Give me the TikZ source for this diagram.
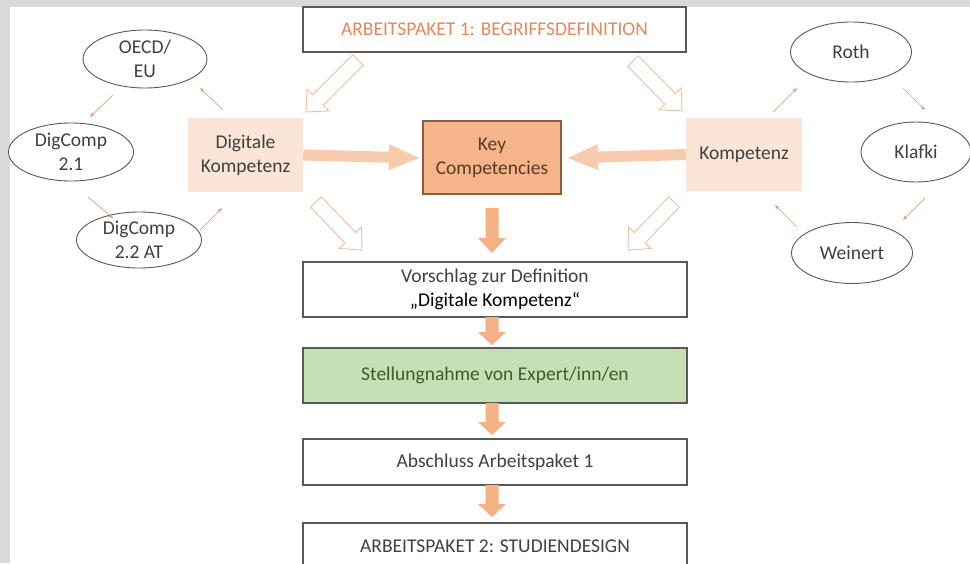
\documentclass[tikz,border=0pt]{standalone}
\usepackage{fontspec}
\setmainfont{Carlito}
\usetikzlibrary{calc,arrows.meta,shapes.geometric}
\definecolor{bggray}{HTML}{D9D9D9}
\definecolor{boxline}{HTML}{595959}
\definecolor{txtgray}{HTML}{404040}
\definecolor{orangetxt}{HTML}{E8875A}
\definecolor{keyfill}{HTML}{F6B48A}
\definecolor{keyline}{HTML}{8B5E44}
\definecolor{keytxt}{HTML}{5A3A28}
\definecolor{lightfill}{HTML}{FBE5D6}
\definecolor{greenfill}{HTML}{C5E0B4}
\definecolor{greentxt}{HTML}{3B5E2B}
\definecolor{hollowline}{HTML}{F0BE9E}
\definecolor{horfill}{HTML}{F8CBAD}
\definecolor{verfill}{HTML}{F4B183}
\definecolor{smallarr}{HTML}{DDA07E}
\newcommand{\blkarrow}[6]{%
  \coordinate (tmpC) at ($(#2)!#5!(#1)$);
  \path[#6] ($(#1)!#3!90:(#2)$) -- ($(tmpC)!#3!-90:(#1)$) -- ($(tmpC)!#4!-90:(#1)$) -- (#2) -- ($(tmpC)!#4!90:(#1)$) -- ($(tmpC)!#3!90:(#1)$) -- ($(#1)!#3!-90:(#2)$) -- cycle;}
\begin{document}
\begin{tikzpicture}[x=1pt,y=-1pt,
  every node/.style={font=\fontsize{19.5}{24}\selectfont, align=center, inner sep=0pt},
  flowbox/.style={draw=boxline, line width=1.1pt, fill=white, minimum width=384pt, text=txtgray},
  sidebox/.style={fill=lightfill, text=txtgray},
  ell/.style={ellipse, draw=boxline, line width=0.9pt, fill=white, text=txtgray},
  smallarrow/.style={draw=smallarr, line width=0.7pt, -{Stealth[length=5pt,width=4pt]}},
  hollow/.style={draw=hollowline, line width=0.9pt, fill=white, line join=miter},
  horarrow/.style={fill=horfill},
  verarrow/.style={fill=verfill}]
\useasboundingbox (0,0) rectangle (970,563);
\fill[bggray] (0,0) rectangle (970,563);
\fill[white] (10,7) rectangle (970,563);

% main boxes
\node[flowbox, minimum width=383pt, minimum height=45pt, text=orangetxt] (top) at (494.5,29.5) {ARBEITSPAKET 1: BEGRIFFSDEFINITION};
\node[draw=keyline, line width=1.1pt, fill=keyfill, text=keytxt, minimum width=138pt, minimum height=73pt] (key) at (492,157.5) {Key\\Competencies};
\node[sidebox, minimum width=115pt, minimum height=74pt] (dig) at (245.5,155) {Digitale\\Kompetenz};
\node[sidebox, minimum width=116pt, minimum height=73pt] (komp) at (744,154.5) {Kompetenz};
\node[flowbox, minimum height=55pt] (vor) at (495,289.5) {Vorschlag zur Definition\\{\color{black}„Digitale Kompetenz“}};
\node[flowbox, fill=greenfill, text=greentxt, minimum height=55pt] (stell) at (495,375.5) {Stellungnahme von Expert/inn/en};
\node[flowbox, minimum height=46pt] (absch) at (495,462) {Abschluss Arbeitspaket 1};
\node[flowbox, minimum height=46pt] (ap2) at (495,546) {ARBEITSPAKET 2: STUDIENDESIGN};

% ellipses
\node[ell, minimum width=124pt, minimum height=58pt] (oecd) at (145,59) {OECD/\\EU};
\node[ell, minimum width=125pt, minimum height=58pt] (dc21) at (71,152) {DigComp\\2.1};
\node[ell, minimum width=125pt, minimum height=56pt] (dc22) at (139,240) {DigComp\\2.2 AT};
\node[ell, minimum width=121pt, minimum height=60pt] (roth) at (851,52) {Roth};
\node[ell, minimum width=110pt, minimum height=60pt] (klafki) at (916,152) {Klafki};
\node[ell, minimum width=121pt, minimum height=61pt] (weinert) at (852,253) {Weinert};

% small arrow end points
\coordinate (l1a) at (223,110); \coordinate (l1b) at (200,88);
\coordinate (l2a) at (113,95);  \coordinate (l2b) at (90,117);
\coordinate (l3a) at (88,197);  \coordinate (l3b) at (113,218);
\coordinate (l4a) at (200,230); \coordinate (l4b) at (222,208);
\coordinate (r1a) at (773,112); \coordinate (r1b) at (797,88);
\coordinate (r2a) at (903,88);  \coordinate (r2b) at (925,110);
\coordinate (r3a) at (925,198); \coordinate (r3b) at (903,220);
\coordinate (r4a) at (797,227); \coordinate (r4b) at (775,205);
\draw[smallarrow] (l1a) -- (l1b);
\draw[smallarrow] (l2a) -- (l2b);
\draw[smallarrow] (l3a) -- (l3b);
\draw[smallarrow] (l4a) -- (l4b);
\draw[smallarrow] (r1a) -- (r1b);
\draw[smallarrow] (r2a) -- (r2b);
\draw[smallarrow] (r3a) -- (r3b);
\draw[smallarrow] (r4a) -- (r4b);

% hollow block arrows
\coordinate (h1a) at (358,60);  \coordinate (h1b) at (306,112);
\coordinate (h2a) at (633,61);  \coordinate (h2b) at (682,111);
\coordinate (h3a) at (316,202); \coordinate (h3b) at (362,250);
\coordinate (h4a) at (674,202); \coordinate (h4b) at (628,250);
\blkarrow{h1a}{h1b}{7.5pt}{15.5pt}{17pt}{hollow}
\blkarrow{h2a}{h2b}{7.5pt}{15.5pt}{17pt}{hollow}
\blkarrow{h3a}{h3b}{7.5pt}{15.5pt}{17pt}{hollow}
\blkarrow{h4a}{h4b}{7.5pt}{15.5pt}{17pt}{hollow}

% thick filled arrows
\coordinate (t1a) at (dig.east); \coordinate (t1b) at (419,158);
\coordinate (t2a) at (komp.west); \coordinate (t2b) at (568,158);
\blkarrow{t1a}{t1b}{5.5pt}{13pt}{30pt}{horarrow}
\blkarrow{t2a}{t2b}{5.5pt}{13pt}{30pt}{horarrow}
\coordinate (v1a) at (492,208); \coordinate (v1b) at (492,253);
\coordinate (v2a) at (492,317); \coordinate (v2b) at (492,345);
\coordinate (v3a) at (492,403); \coordinate (v3b) at (492,435);
\coordinate (v4a) at (492,485); \coordinate (v4b) at (492,517);
\blkarrow{v1a}{v1b}{6.5pt}{14pt}{15pt}{verarrow}
\blkarrow{v2a}{v2b}{6.5pt}{14pt}{13pt}{verarrow}
\blkarrow{v3a}{v3b}{6.5pt}{14pt}{13pt}{verarrow}
\blkarrow{v4a}{v4b}{6.5pt}{14pt}{13pt}{verarrow}
\end{tikzpicture}
\end{document}
